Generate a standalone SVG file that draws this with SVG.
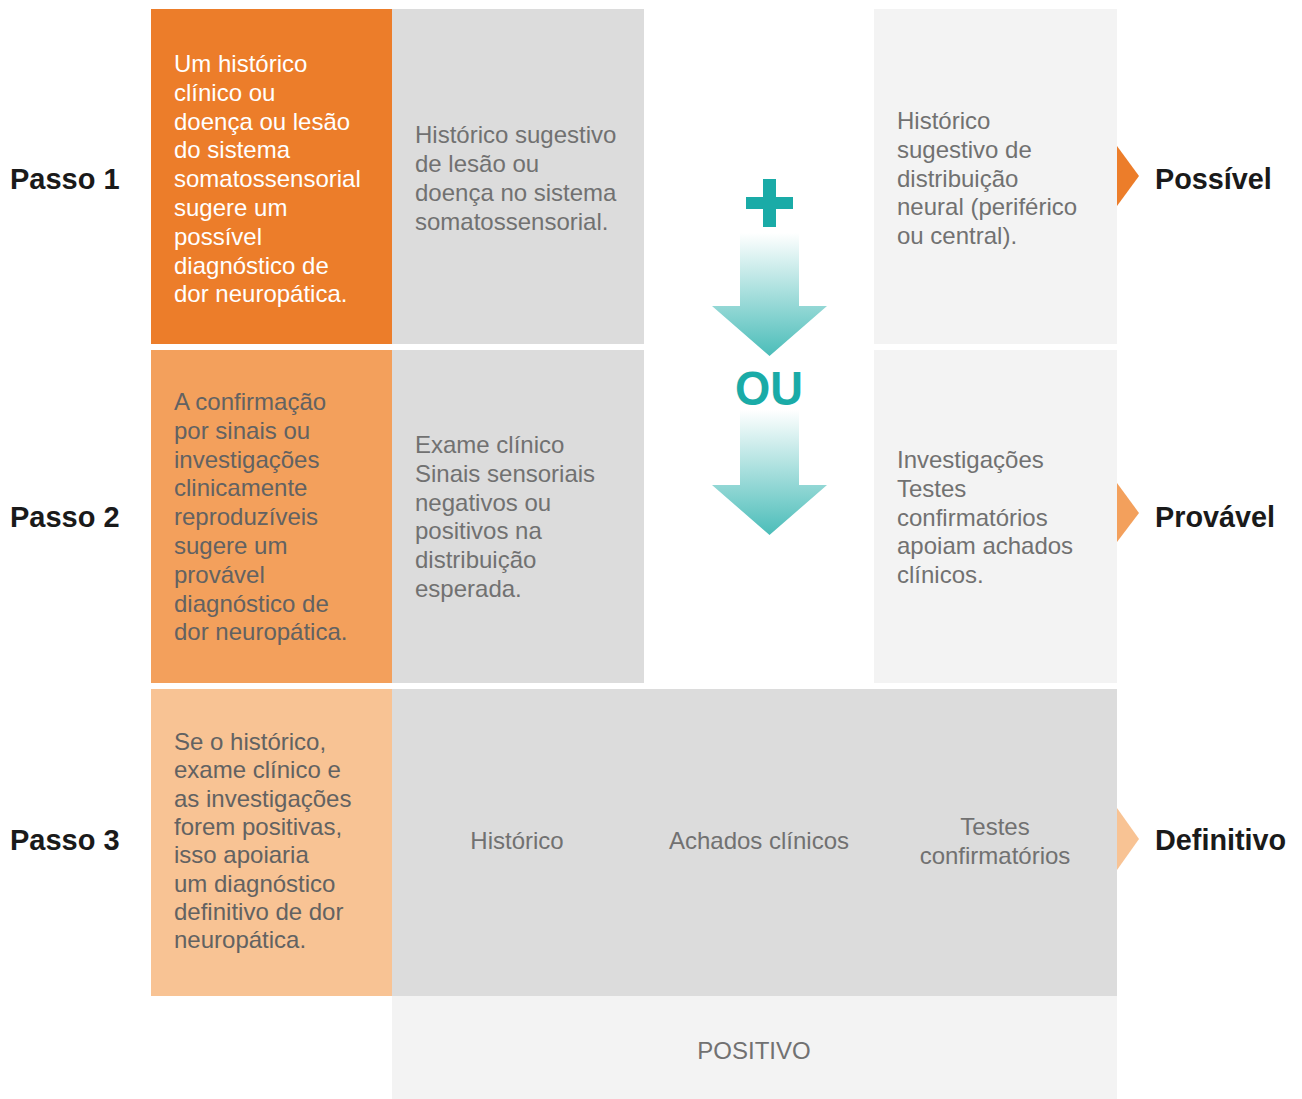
<svg xmlns="http://www.w3.org/2000/svg" width="1302" height="1099" viewBox="0 0 1302 1099">
<defs>
<style>
.step{font-family:"Liberation Sans",Arial,sans-serif;font-weight:bold;font-size:29px;fill:#1a1a1a}
.res{font-family:"Liberation Sans",Arial,sans-serif;font-weight:bold;font-size:28.8px;fill:#1a1a1a}
.body{font-family:"Liberation Sans",Arial,sans-serif;font-size:24px;fill:#717171}
.white{fill:#ffffff}
.dark{fill:#626262}
.mid{text-anchor:middle}
</style>
<linearGradient id="arrowGrad" x1="0" y1="0" x2="0" y2="1">
<stop offset="0" stop-color="#ffffff"/>
<stop offset="1" stop-color="#4bbdb9"/>
</linearGradient>
</defs>
<rect width="1302" height="1099" fill="#ffffff"/>

<g id="labels">
<text class="step" x="10" y="189">Passo 1</text>
<text class="step" x="10" y="527">Passo 2</text>
<text class="step" x="10" y="850">Passo 3</text>
</g>

<g id="step1-box">
<rect x="151" y="9" width="241" height="335" fill="#ec7d2a"/>
<text class="body white" x="174" y="72">Um histórico</text>
<text class="body white" x="174" y="100.8">clínico ou</text>
<text class="body white" x="174" y="129.6">doença ou lesão</text>
<text class="body white" x="174" y="158.4">do sistema</text>
<text class="body white" x="174" y="187.2">somatossensorial</text>
<text class="body white" x="174" y="216">sugere um</text>
<text class="body white" x="174" y="244.8">possível</text>
<text class="body white" x="174" y="273.6">diagnóstico de</text>
<text class="body white" x="174" y="302.4">dor neuropática.</text>
</g>

<g id="step1-history">
<rect x="392" y="9" width="252" height="335" fill="#dcdcdc"/>
<text class="body" x="415" y="143.4">Histórico sugestivo</text>
<text class="body" x="415" y="172.2">de lesão ou</text>
<text class="body" x="415" y="201">doença no sistema</text>
<text class="body" x="415" y="229.8">somatossensorial.</text>
</g>

<g id="step1-right">
<rect x="874" y="9" width="243" height="335" fill="#f3f3f3"/>
<text class="body" x="897" y="129">Histórico</text>
<text class="body" x="897" y="157.8">sugestivo de</text>
<text class="body" x="897" y="186.6">distribuição</text>
<text class="body" x="897" y="215.4">neural (periférico</text>
<text class="body" x="897" y="244.2">ou central).</text>
</g>

<g id="step2-box">
<rect x="151" y="350" width="241" height="333" fill="#f3a05c"/>
<text class="body dark" x="174" y="410">A confirmação</text>
<text class="body dark" x="174" y="438.8">por sinais ou</text>
<text class="body dark" x="174" y="467.6">investigações</text>
<text class="body dark" x="174" y="496.4">clinicamente</text>
<text class="body dark" x="174" y="525.2">reproduzíveis</text>
<text class="body dark" x="174" y="554">sugere um</text>
<text class="body dark" x="174" y="582.8">provável</text>
<text class="body dark" x="174" y="611.6">diagnóstico de</text>
<text class="body dark" x="174" y="640.4">dor neuropática.</text>
</g>

<g id="step2-exam">
<rect x="392" y="350" width="252" height="333" fill="#dcdcdc"/>
<text class="body" x="415" y="453">Exame clínico</text>
<text class="body" x="415" y="481.8">Sinais sensoriais</text>
<text class="body" x="415" y="510.6">negativos ou</text>
<text class="body" x="415" y="539.4">positivos na</text>
<text class="body" x="415" y="568.2">distribuição</text>
<text class="body" x="415" y="597">esperada.</text>
</g>

<g id="step2-right">
<rect x="874" y="350" width="243" height="333" fill="#f3f3f3"/>
<text class="body" x="897" y="468">Investigações</text>
<text class="body" x="897" y="496.8">Testes</text>
<text class="body" x="897" y="525.6">confirmatórios</text>
<text class="body" x="897" y="554.4">apoiam achados</text>
<text class="body" x="897" y="583.2">clínicos.</text>
</g>

<g id="step3-box">
<rect x="151" y="689" width="241" height="307" fill="#f8c394"/>
<text class="body dark" x="174" y="750">Se o histórico,</text>
<text class="body dark" x="174" y="778.3">exame clínico e</text>
<text class="body dark" x="174" y="806.6">as investigações</text>
<text class="body dark" x="174" y="834.9">forem positivas,</text>
<text class="body dark" x="174" y="863.2">isso apoiaria</text>
<text class="body dark" x="174" y="891.5">um diagnóstico</text>
<text class="body dark" x="174" y="919.8">definitivo de dor</text>
<text class="body dark" x="174" y="948.1">neuropática.</text>
</g>

<g id="step3-findings">
<rect x="392" y="689" width="725" height="307" fill="#dcdcdc"/>
<text class="body mid" x="517" y="849">Histórico</text>
<text class="body mid" x="759" y="849">Achados clínicos</text>
<text class="body mid" x="995" y="835">Testes</text>
<text class="body mid" x="995" y="864">confirmatórios</text>
</g>

<g id="positivo">
<rect x="392" y="996" width="725" height="103" fill="#f3f3f3"/>
<text class="body mid" x="754" y="1059">POSITIVO</text>
</g>

<g id="flow">
<rect x="763" y="179" width="13" height="48" fill="#1aaba7"/>
<rect x="746" y="197" width="47" height="12" fill="#1aaba7"/>
<path d="M740 233 H799 V306 H827 L769.5 356 L712 306 H740 Z" fill="url(#arrowGrad)"/>
<text x="769" y="405" text-anchor="middle" font-family="Liberation Sans, Arial, sans-serif" font-weight="bold" font-size="49" fill="#1aaba7" textLength="68" lengthAdjust="spacingAndGlyphs">OU</text>
<path d="M740 410 H799 V485 H827 L769.5 535 L712 485 H740 Z" fill="url(#arrowGrad)"/>
</g>

<g id="connectors">
<path d="M1117 146 L1139 176 L1117 206 Z" fill="#ec7d2a"/>
<path d="M1117 483 L1139 513 L1117 542 Z" fill="#f3a05c"/>
<path d="M1117 808 L1139 839 L1117 870 Z" fill="#f8c394"/>
</g>

<g id="results">
<text class="res" x="1155" y="189">Possível</text>
<text class="res" x="1155" y="527">Provável</text>
<text class="res" x="1155" y="850">Definitivo</text>
</g>
</svg>
